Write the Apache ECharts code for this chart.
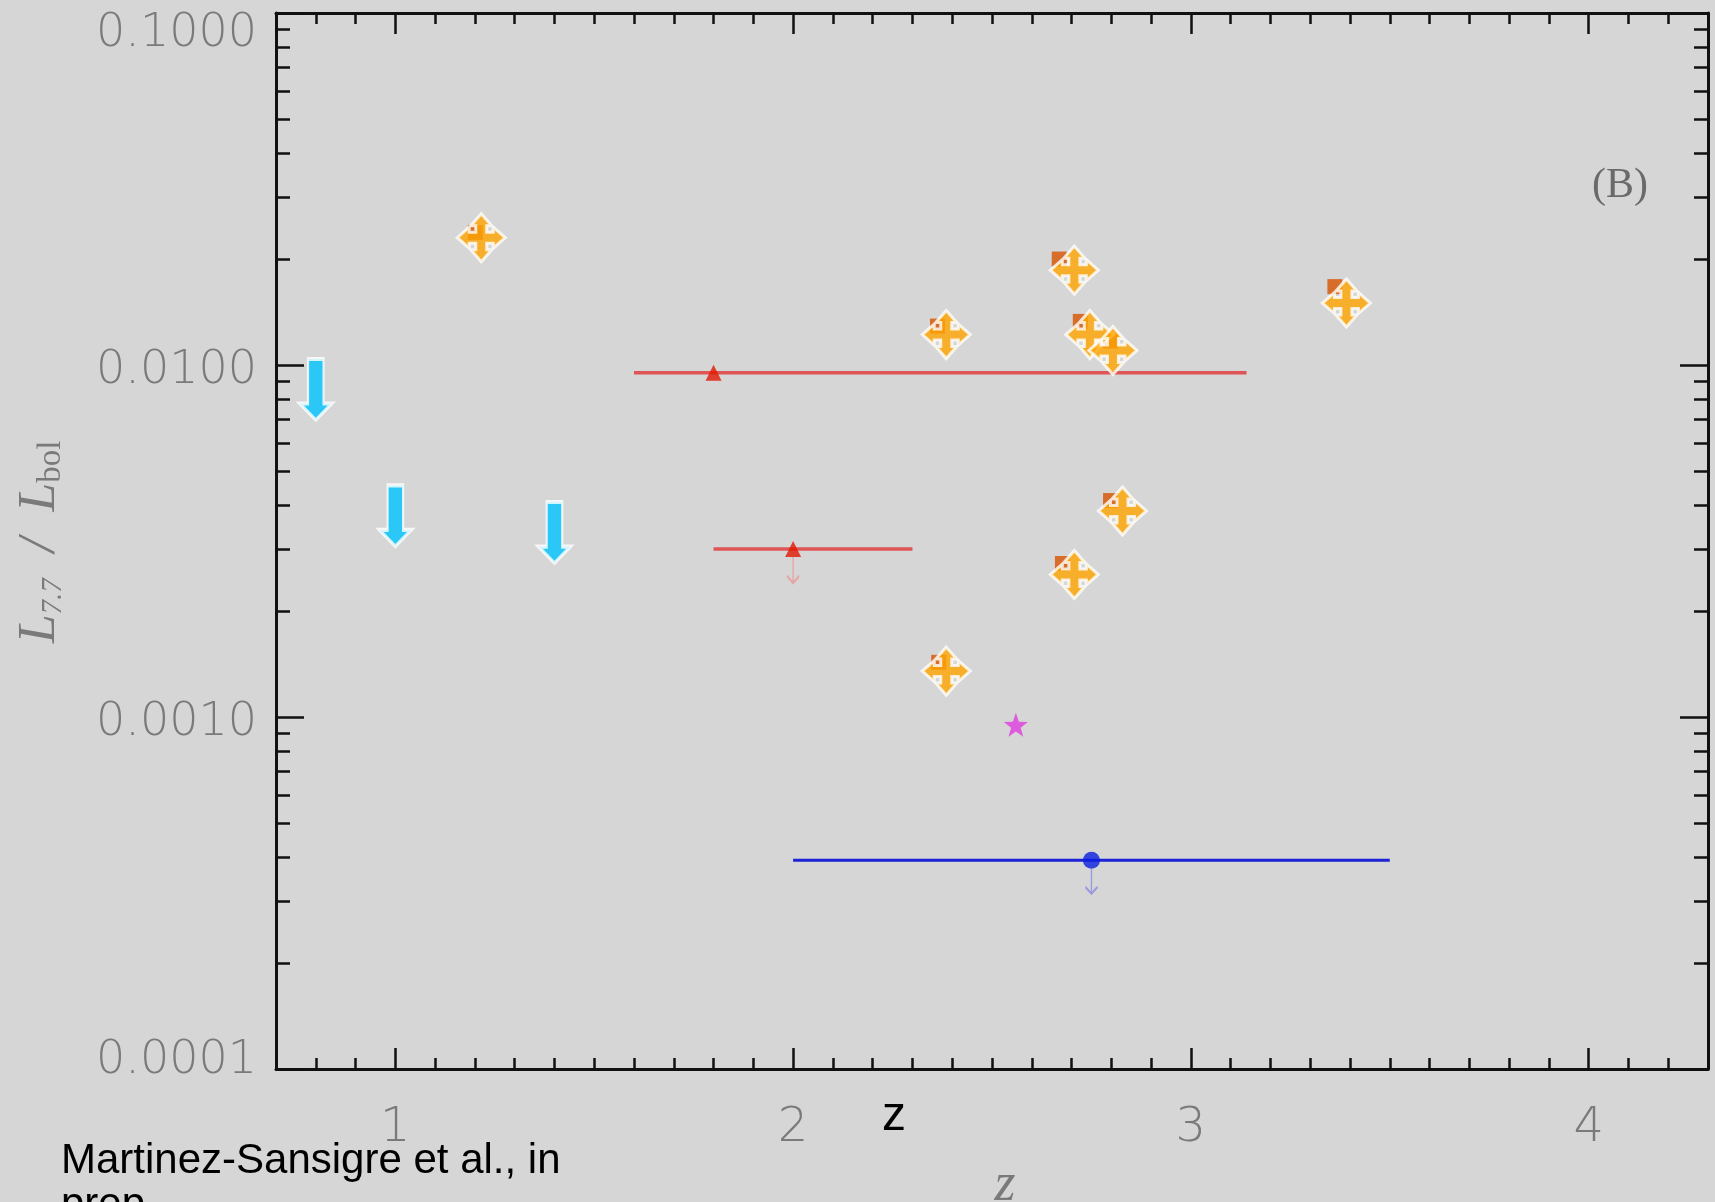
<!DOCTYPE html>
<html>
<head>
<meta charset="utf-8">
<script src="https://cdn.jsdelivr.net/npm/echarts@6/dist/echarts.min.js"></script>
<style>
html,body{margin:0;padding:0;background:#d6d6d6;}
#chart{width:1715px;height:1202px;}
</style>
</head>
<body>
<div id="chart"></div>
<script>
// ---- data ----
const xTickValues = [1, 2, 3, 4];
const xTickLabels = ['1', '2', '3', '4'];
const yTickValues = [0.0001, 0.001, 0.01, 0.1];
const yTickLabels = ['0.0001', '0.0010', '0.0100', '0.1000'];

// orange "cross" markers
const crossX = [1.216, 2.385, 2.707, 2.746, 2.804, 3.391, 2.828, 2.707, 2.385];
const crossY = [0.0230, 0.0122, 0.0186, 0.0122, 0.0110, 0.0150, 0.00385, 0.00254, 0.00135];
// dark orange squares behind the crosses
const squareX = [1.201, 2.363, 2.669, 2.722, 2.798, 3.362, 2.798, 2.677, 2.366];
const squareY = [0.0238, 0.0129, 0.0200, 0.0133, 0.0117, 0.0167, 0.00412, 0.00273, 0.00143];
// cyan upper-limit arrows (value at the arrow top)
const limitX = [0.8, 1.0, 1.4];
const limitY = [0.0104, 0.00455, 0.00408];
// red stacked points with z range
const redX = [1.8, 2.0];
const redXLow = [1.6, 1.8];
const redXHigh = [3.14, 2.3];
const redY = [0.0095, 0.00300];
const redIsLimit = [false, true];
// blue stacked point
const blueX = [2.75];
const blueXLow = [2.0];
const blueXHigh = [3.5];
const blueY = [0.000392];
// magenta star
const starX = [2.56];
const starY = [0.00095];

// ---- helpers ----
const lg = v => Math.log10(v);
const pt = (x, y) => [x, lg(y)];

const xMinor = [];
for (let i = 7; i <= 43; i++) { if (i % 10 !== 0) xMinor.push(i / 10); }
const yMinor = [];
for (let d = -4; d <= -2; d++) { for (let k = 2; k <= 9; k++) yMinor.push(d + Math.log10(k)); }

const crossPath = 'path://M50,2 L71,26 L61,26 L61,39 L74,39 L74,29 L98,50 L74,71 L74,61 L61,61 L61,74 L71,74 L50,98 L29,74 L39,74 L39,61 L26,61 L26,71 L2,50 L26,29 L26,39 L39,39 L39,26 L29,26 Z';
const downArrowPath = 'path://M8.5,0 L24.5,0 L24.5,46 L33,46 L16.5,63 L0,46 L8.5,46 Z';
const thinArrowPath = 'path://M6,0 L6,26 M0,19 L6,26 L12,19';
const starPath = 'path://M50,0 L61.8,33.8 L97.6,34.5 L69,56.2 L79.4,90.5 L50,70 L20.6,90.5 L31,56.2 L2.4,34.5 L38.2,33.8 Z';

const AX = '#111';
const LBL = '#7a7a7a';
const LFONT = '"DejaVu Sans", sans-serif';
const LW = 200;

function xAxisDef(pos, major) {
  return {
    type: 'value', min: 0.7, max: 4.3, position: pos, gridIndex: 0,
    axisLine: { show: major, onZero: false, lineStyle: { color: AX, width: 3 } },
    axisTick: { show: true, inside: true, length: major ? 21 : 11,
      customValues: major ? xTickValues : xMinor,
      lineStyle: { color: AX, width: 2.5 } },
    axisLabel: major && pos === 'bottom' ? {
      show: true, customValues: xTickValues, margin: 36,
      fontSize: 48, fontFamily: LFONT, fontWeight: LW, color: LBL,
      formatter: v => xTickLabels[xTickValues.indexOf(Math.round(v))]
    } : { show: false },
    splitLine: { show: false }, minorTick: { show: false }
  };
}
function yAxisDef(pos, major) {
  return {
    type: 'value', min: -4, max: -1, position: pos, gridIndex: 0,
    axisLine: { show: major, onZero: false, lineStyle: { color: AX, width: 3 } },
    axisTick: { show: true, inside: true, length: major ? 28 : 14,
      customValues: major ? yTickValues.map(lg) : yMinor,
      lineStyle: { color: AX, width: 2.5 } },
    axisLabel: major && pos === 'left' ? {
      show: true, customValues: yTickValues.map(lg), margin: 19,
      fontSize: 46, fontFamily: LFONT, fontWeight: LW, color: LBL,
      formatter: v => {
        const i = yTickValues.findIndex(t => Math.abs(lg(t) - v) < 1e-6);
        const tag = i === 3 ? 't' : (i === 0 ? 'b' : 'm');
        return '{' + tag + '|' + yTickLabels[i] + '}';
      },
      rich: {
        t: { fontSize: 46, fontFamily: LFONT, fontWeight: LW, color: LBL, padding: [43, 0, 0, 0] },
        b: { fontSize: 46, fontFamily: LFONT, fontWeight: LW, color: LBL, padding: [0, 0, 15, 0] },
        m: { fontSize: 46, fontFamily: LFONT, fontWeight: LW, color: LBL, padding: [12, 0, 0, 0] }
      }
    } : { show: false },
    splitLine: { show: false }, minorTick: { show: false }
  };
}

const series = [];
redXLow.forEach((lo, i) => {
  series.push({ type: 'line', xAxisIndex: 0, yAxisIndex: 0, symbol: 'none', z: 2,
    data: [pt(lo, redY[i]), pt(redXHigh[i], redY[i])],
    lineStyle: { color: '#e04646', width: 3.5, opacity: 0.9 } });
});
series.push({ type: 'scatter', z: 3, symbol: 'triangle', symbolSize: 16,
  data: redX.map((x, i) => pt(x, redY[i])), itemStyle: { color: '#e01800' } });
series.push({ type: 'scatter', z: 3, symbol: thinArrowPath, symbolSize: [12, 26], symbolOffset: [0, 21],
  data: redX.map((x, i) => pt(x, redY[i])).filter((p, i) => redIsLimit[i]),
  itemStyle: { color: 'rgba(0,0,0,0)', borderColor: '#e99a9a', borderWidth: 2 } });
blueXLow.forEach((lo, i) => {
  series.push({ type: 'line', symbol: 'none', z: 2,
    data: [pt(lo, blueY[i]), pt(blueXHigh[i], blueY[i])],
    lineStyle: { color: '#1c22d6', width: 3 } });
});
series.push({ type: 'scatter', z: 3, symbol: 'circle', symbolSize: 17,
  data: blueX.map((x, i) => pt(x, blueY[i])), itemStyle: { color: '#0a1ee0' } });
series.push({ type: 'scatter', z: 3, symbol: thinArrowPath, symbolSize: [12, 25], symbolOffset: [0, 21],
  data: blueX.map((x, i) => pt(x, blueY[i])),
  itemStyle: { color: 'rgba(0,0,0,0)', borderColor: '#8c8ce0', borderWidth: 2 } });
series.push({ type: 'scatter', z: 3, symbol: starPath, symbolSize: 24,
  data: starX.map((x, i) => pt(x, starY[i])), itemStyle: { color: '#e03ce0' } });
series.push({ type: 'scatter', z: 4, symbol: 'rect', symbolSize: 15,
  data: squareX.map((x, i) => pt(x, squareY[i])), itemStyle: { color: '#d75200' } });
series.push({ type: 'scatter', z: 5, symbol: crossPath, symbolSize: 48,
  data: crossX.map((x, i) => pt(x, crossY[i])),
  itemStyle: { color: '#ffa500', borderColor: '#ffffff', borderWidth: 3 } });
series.push({ type: 'scatter', z: 5, symbol: downArrowPath, symbolSize: [32, 61], symbolOffset: [0, '50%'],
  data: limitX.map((x, i) => pt(x, limitY[i])),
  itemStyle: { color: '#00c4ff', borderColor: '#ffffff', borderWidth: 3 } });

const chart = echarts.init(document.getElementById('chart'), null, { renderer: 'canvas' });
chart.setOption({
  animation: false,
  backgroundColor: '#d6d6d6',
  grid: { left: 276, right: 7, top: 13, bottom: 133, containLabel: false },
  xAxis: [xAxisDef('bottom', true), xAxisDef('bottom', false), xAxisDef('top', true), xAxisDef('top', false)],
  yAxis: [yAxisDef('left', true), yAxisDef('left', false), yAxisDef('right', true), yAxisDef('right', false)],
  series: series,
  graphic: [
    { type: 'text', x: 1620, y: 186, style: { text: '(B)', fontFamily: '"Liberation Serif", serif', fontSize: 42,
      fill: '#6a6a6a', align: 'center', verticalAlign: 'middle' } },
    { type: 'text', x: 40, y: 542, rotation: Math.PI / 2,
      style: {
        text: '{i|L}{s|7.7}{n|  /  }{i|L}{b|bol}', align: 'center', verticalAlign: 'middle', fill: '#7a7a7a',
        rich: {
          i: { fontFamily: '"Liberation Serif", serif', fontStyle: 'italic', fontSize: 52, fill: '#7a7a7a', lineHeight: 56 },
          n: { fontFamily: '"Liberation Serif", serif', fontStyle: 'italic', fontSize: 52, fill: '#7a7a7a', lineHeight: 56 },
          s: { fontFamily: '"Liberation Serif", serif', fontStyle: 'italic', fontSize: 29, fill: '#7a7a7a', lineHeight: 30, verticalAlign: 'bottom' },
          b: { fontFamily: '"Liberation Serif", serif', fontSize: 33, fill: '#7a7a7a', lineHeight: 32, verticalAlign: 'bottom' }
        }
      } },
    { type: 'text', x: 1005, y: 1186, style: { text: 'z', fontFamily: '"Liberation Serif", serif', fontStyle: 'italic',
      fontSize: 54, fill: '#7a7a7a', align: 'center', verticalAlign: 'middle' } },
    { type: 'text', x: 894, y: 1117, style: { text: 'z', fontFamily: '"Liberation Sans", Arial, sans-serif',
      fontSize: 48, fill: '#000', align: 'center', verticalAlign: 'middle' } },
    { type: 'text', x: 61, y: 1139, style: { text: 'Martinez-Sansigre et al., in\nprep.', fontFamily: '"Liberation Sans", Arial, sans-serif',
      fontSize: 42, lineHeight: 44, fill: '#000', align: 'left', verticalAlign: 'top' } }
  ]
});
</script>
</body>
</html>
